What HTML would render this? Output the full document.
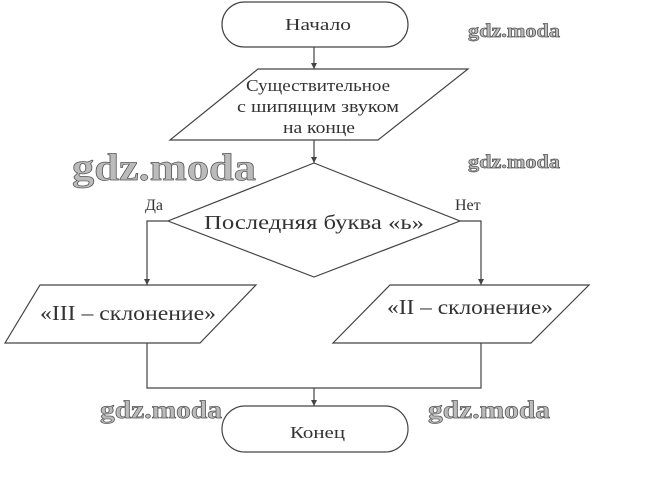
<!DOCTYPE html>
<html><head><meta charset="utf-8"><style>
body{margin:0;background:#fff;}
svg{display:block}
text{font-family:"Liberation Serif",serif;fill:#333;}
.w{font-family:"Liberation Serif",serif;font-weight:bold;fill:#bbb;stroke:#555;stroke-width:0.7;}
</style></head><body>
<svg width="660" height="488" viewBox="0 0 660 488" xmlns="http://www.w3.org/2000/svg">
<g fill="none" stroke="#444" stroke-width="1.2">
<rect x="222" y="2" width="186" height="45" rx="22.5"/>
<line x1="314" y1="47" x2="314" y2="69"/>
<polygon points="258,69 468,69 378,140 170,140"/>
<line x1="314" y1="140" x2="314" y2="163"/>
<polygon points="314,163 460,221 314,277 168,221"/>
<polyline points="168,221 147,221 147,285"/>
<polyline points="460,221 481,221 481,285"/>
<polygon points="40,285 256,285 200,343 5,343"/>
<polygon points="390,285 589,285 531,343 333,343"/>
<polyline points="147,343 147,388 481,388 481,343"/>
<line x1="314" y1="388" x2="314" y2="406"/>
<rect x="222" y="406" width="186" height="46" rx="23"/>
</g>
<g fill="#444">
<polygon points="311,63 317,63 314,69"/>
<polygon points="311,157 317,157 314,163"/>
<polygon points="144,279 150,279 147,285"/>
<polygon points="478,279 484,279 481,285"/>
<polygon points="311,400 317,400 314,406"/>
</g>
<text x="285" y="30" font-size="17" textLength="66" lengthAdjust="spacingAndGlyphs">Начало</text>
<text x="246" y="91" font-size="17" textLength="144" lengthAdjust="spacingAndGlyphs">Существительное</text>
<text x="237" y="112" font-size="17" textLength="162" lengthAdjust="spacingAndGlyphs">с шипящим звуком</text>
<text x="283" y="133" font-size="17" textLength="72" lengthAdjust="spacingAndGlyphs">на конце</text>
<text x="204" y="229" font-size="20" fill="#111" textLength="220" lengthAdjust="spacingAndGlyphs">Последняя буква «ь»</text>
<text x="145" y="210" font-size="16">Да</text>
<text x="455" y="210" font-size="16">Нет</text>
<text x="40" y="320" font-size="21" fill="#111" textLength="176" lengthAdjust="spacingAndGlyphs">«III – склонение»</text>
<text x="387" y="314" font-size="21" fill="#111" textLength="166" lengthAdjust="spacingAndGlyphs">«II – склонение»</text>
<text x="290" y="438" font-size="17" textLength="55" lengthAdjust="spacingAndGlyphs">Конец</text>
<text class="w" x="72" y="180" font-size="38" textLength="184" lengthAdjust="spacingAndGlyphs">gdz.moda</text>
<text class="w" x="468" y="37" font-size="19" textLength="92" lengthAdjust="spacingAndGlyphs">gdz.moda</text>
<text class="w" x="468" y="168" font-size="19" textLength="92" lengthAdjust="spacingAndGlyphs">gdz.moda</text>
<text class="w" x="100" y="418" font-size="25" textLength="122" lengthAdjust="spacingAndGlyphs">gdz.moda</text>
<text class="w" x="428" y="418" font-size="25" textLength="122" lengthAdjust="spacingAndGlyphs">gdz.moda</text>
</svg>
</body></html>
